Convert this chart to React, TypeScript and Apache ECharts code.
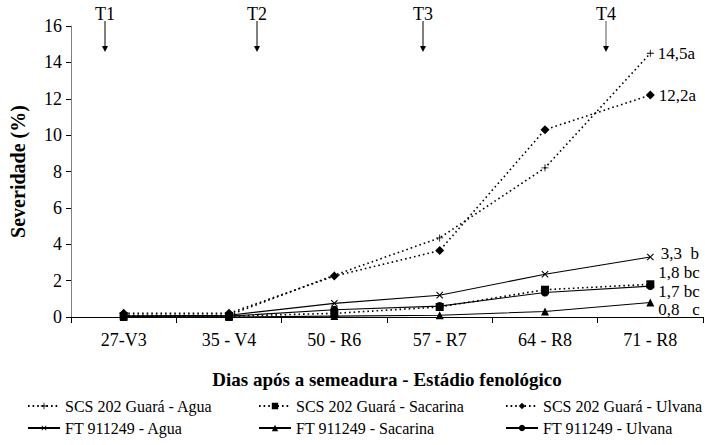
import React, { useEffect, useRef } from "react";
import * as echarts from "echarts";

const categories = ["27-V3", "35 - V4", "50 - R6", "57 - R7", "64 - R8", "71 - R8"];
const seriesNames = [
  "SCS 202 Guará - Agua",
  "SCS 202 Guará - Sacarina",
  "SCS 202 Guará - Ulvana",
  "FT 911249 - Agua",
  "FT 911249 - Sacarina",
  "FT 911249 - Ulvana",
];
const scsAgua = [0.1, 0.1, 2.3, 4.35, 8.2, 14.5];
const scsSacarina = [0.05, 0.05, 0.2, 0.55, 1.5, 1.8];
const scsUlvana = [0.2, 0.2, 2.25, 3.65, 10.3, 12.2];
const ftAgua = [0.05, 0.1, 0.75, 1.2, 2.35, 3.3];
const ftSacarina = [0, 0, 0.05, 0.1, 0.3, 0.8];
const ftUlvana = [0.05, 0.05, 0.4, 0.6, 1.35, 1.7];
const endLabels = ["14,5a", "1,8 bc", "12,2a", "3,3  b", "0,8   c", "1,7 bc"];
const treatments = ["T1", "T2", "T3", "T4"];
const treatmentX = [105, 257, 423, 606];

const FONT = "Liberation Serif";
const PLUS = "path://M4.4,0H5.6V4.4H10V5.6H5.6V10H4.4V5.6H0V4.4H4.4Z";

export default function App() {
  const ref = useRef<HTMLDivElement>(null);
  useEffect(() => {
    if (!ref.current) return;
    const chart = echarts.init(ref.current, null, { renderer: "svg" });
    const allData = [scsAgua, scsSacarina, scsUlvana, ftAgua, ftSacarina, ftUlvana];
    const styles = [
      { symbol: PLUS, size: 7, rotate: 0, dotted: true },
      { symbol: "rect", size: 8, rotate: 0, dotted: true },
      { symbol: "diamond", size: 9, rotate: 0, dotted: true },
      { symbol: PLUS, size: 9, rotate: 45, dotted: false },
      { symbol: "triangle", size: 8, rotate: 0, dotted: false },
      { symbol: "circle", size: 8, rotate: 0, dotted: false },
    ];
    const labelOffsets = [[0, 0], [0, -12], [0, 0], [0, -3], [0, 7], [0, 5]];
    const series = allData.map((arr, si) => ({
      type: "line",
      name: seriesNames[si],
      symbol: styles[si].symbol,
      symbolSize: styles[si].size,
      symbolRotate: styles[si].rotate,
      showAllSymbol: true,
      z: 10 - si,
      lineStyle: {
        color: "#000",
        width: styles[si].dotted ? 1.6 : 1.1,
        type: styles[si].dotted ? [1.6, 3] : "solid",
      },
      itemStyle: { color: "#000" },
      data: arr.map((v, i) =>
        i === arr.length - 1
          ? {
              value: v,
              label: {
                show: true,
                position: "right",
                distance: 4,
                offset: labelOffsets[si],
                formatter: endLabels[si],
                fontFamily: FONT,
                fontSize: 17,
                lineHeight: 12,
                color: "#000",
              },
            }
          : v
      ),
    }));

    const legendPos = [
      [27, 398],
      [258, 398],
      [505, 398],
      [27, 420],
      [258, 420],
      [505, 420],
    ];
    const legend = seriesNames.map((n, i) => ({
      data: [n],
      left: legendPos[i][0],
      top: legendPos[i][1],
      itemWidth: 32,
      itemHeight: 8,
      padding: 0,
      textStyle: { fontFamily: FONT, fontSize: 16, color: "#000" },
    }));

    const graphic: any[] = [];
    treatments.forEach((t, i) => {
      const x = treatmentX[i];
      graphic.push({
        type: "text",
        x,
        y: 14,
        style: {
          text: t,
          fontFamily: FONT,
          fontSize: 18,
          fill: "#000",
          align: "center",
          verticalAlign: "middle",
        },
      });
      graphic.push({
        type: "line",
        shape: { x1: x, y1: 21, x2: x, y2: 47 },
        style: { stroke: i === 3 ? "#555" : "#000", lineWidth: 1 },
      });
      graphic.push({
        type: "polygon",
        shape: { points: [[x - 3, 46], [x + 3, 46], [x, 52]] },
        style: { fill: "#000" },
      });
    });

    chart.setOption({
      animation: false,
      backgroundColor: "#fff",
      textStyle: { fontFamily: FONT },
      grid: { left: 69, right: 2, top: 26, bottom: 128, containLabel: false },
      legend,
      xAxis: {
        type: "category",
        data: categories,
        boundaryGap: true,
        name: "Dias após a semeadura - Estádio fenológico",
        nameLocation: "middle",
        nameGap: 53,
        nameTextStyle: { fontFamily: FONT, fontSize: 19, fontWeight: "bold", color: "#000" },
        axisLine: { lineStyle: { color: "#000", width: 1 } },
        axisTick: { show: true, interval: 0, length: 6, lineStyle: { color: "#000" } },
        axisLabel: { interval: 0, fontFamily: FONT, fontSize: 18, color: "#000", margin: 14 },
      },
      yAxis: {
        type: "value",
        min: 0,
        max: 16,
        interval: 2,
        name: "Severidade (%)",
        nameLocation: "middle",
        nameRotate: 90,
        nameGap: 43,
        nameTextStyle: { fontFamily: FONT, fontSize: 20, fontWeight: "bold", color: "#000" },
        axisLine: { show: true, lineStyle: { color: "#808080", width: 1 } },
        axisTick: { show: true, length: 5, lineStyle: { color: "#000" } },
        axisLabel: { fontFamily: FONT, fontSize: 18, color: "#000", margin: 9 },
        splitLine: { show: false },
      },
      series,
      graphic,
    });
    return () => chart.dispose();
  }, []);
  return <div ref={ref} style={{ width: 705, height: 445, position: "absolute", left: 0, top: 0 }} />;
}
